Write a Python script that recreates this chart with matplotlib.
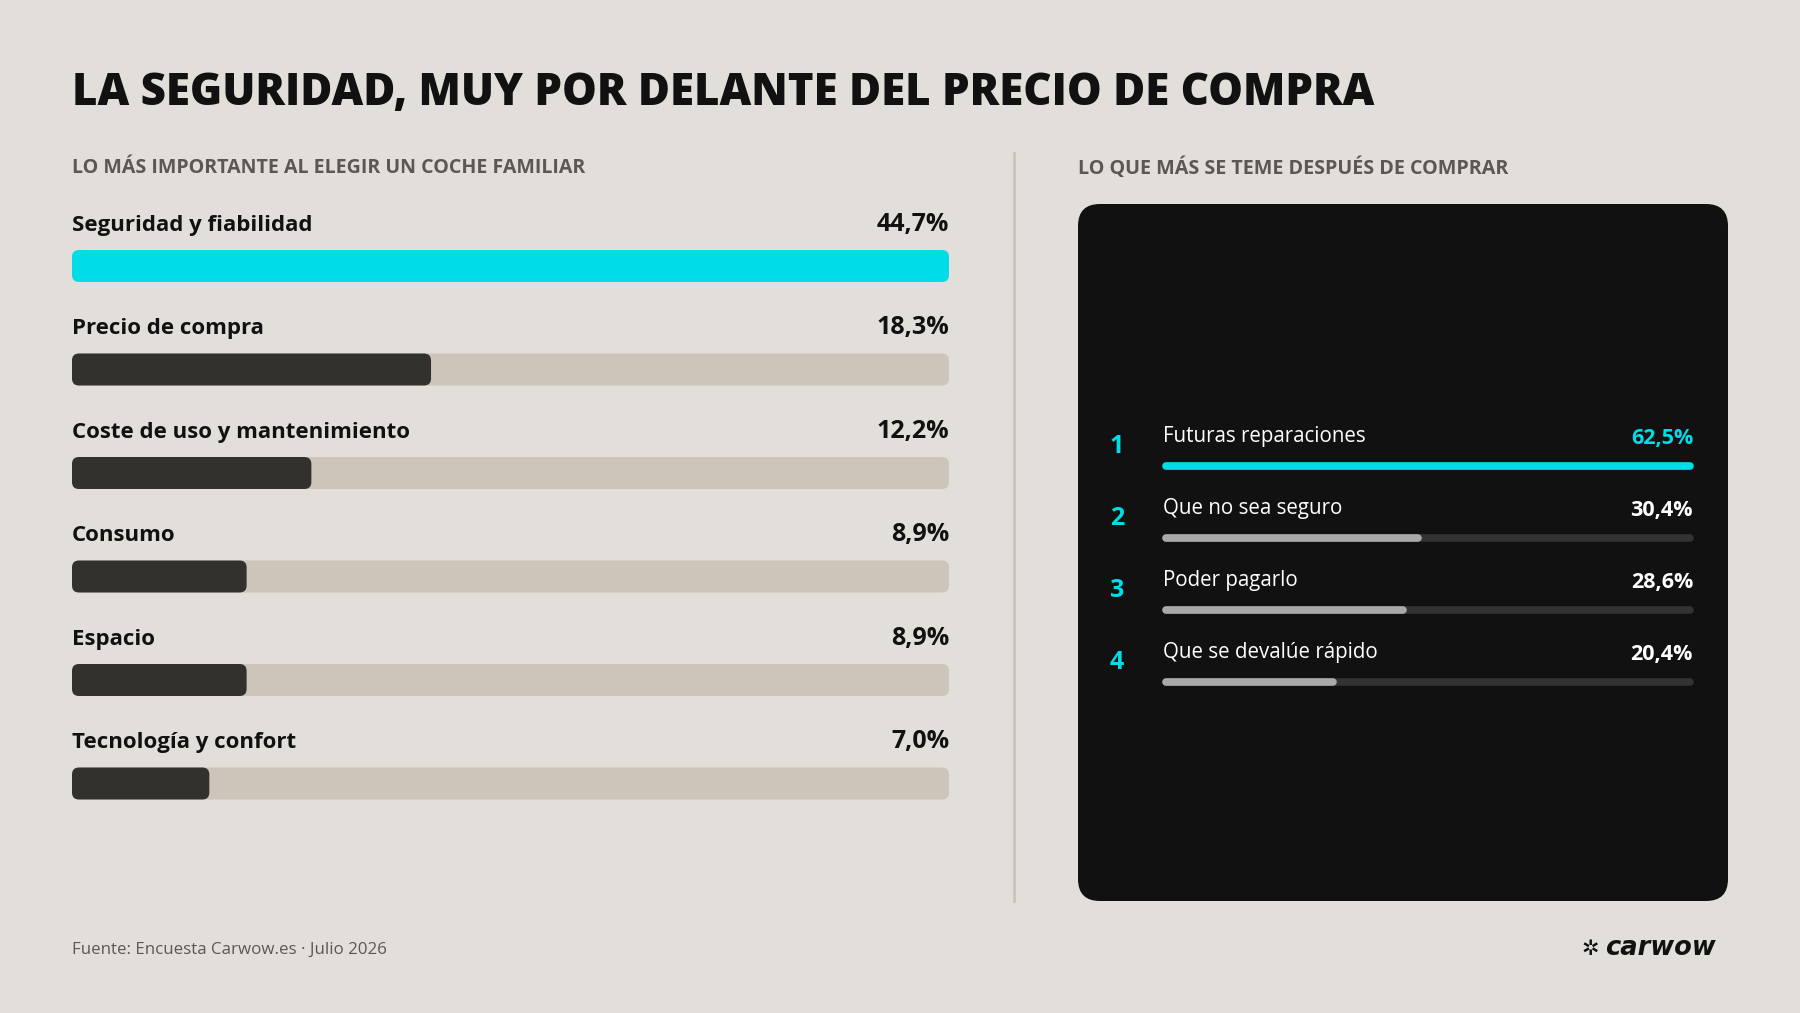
import matplotlib
matplotlib.use("Agg")
import matplotlib.pyplot as plt
from matplotlib.patches import FancyBboxPatch

# left panel: what matters most when choosing a family car
factors = ["Seguridad y fiabilidad", "Precio de compra", "Coste de uso y mantenimiento",
           "Consumo", "Espacio", "Tecnología y confort"]
factor_pct = [44.7, 18.3, 12.2, 8.9, 8.9, 7.0]

# right panel: biggest fears after buying
fears = ["Futuras reparaciones", "Que no sea seguro", "Poder pagarlo", "Que se devalúe rápido"]
fear_pct = [62.5, 30.4, 28.6, 20.4]

title = "LA SEGURIDAD, MUY POR DELANTE DEL PRECIO DE COMPRA"
left_sub = "LO MÁS IMPORTANTE AL ELEGIR UN COCHE FAMILIAR"
right_sub = "LO QUE MÁS SE TEME DESPUÉS DE COMPRAR"
source = "Fuente: Encuesta Carwow.es · Julio 2026"

BG = "#e2dfdb"
CYAN = "#00dce8"
DARK = "#33312e"
TRACK = "#cdc5ba"
INK = "#111111"
GREY = "#5a5754"

plt.rcParams["font.family"] = ["Open Sans", "DejaVu Sans"]

W, H = 1800, 1013
fig = plt.figure(figsize=(W / 100, H / 100), dpi=100, facecolor=BG)
ax = fig.add_axes([0, 0, 1, 1])
ax.set_xlim(0, W)
ax.set_ylim(H, 0)
ax.axis("off")

def fmt(v):
    return f"{v:.1f}".replace(".", ",") + "%"

def rbar(x, y, w, h, r, color, z=2):
    ax.add_patch(FancyBboxPatch((x, y), w, h, boxstyle=f"round,pad=0,rounding_size={r}",
                                fc=color, ec="none", zorder=z))

ax.text(72, 93, title, fontsize=31.5, fontweight="heavy", color=INK, va="center", ha="left")

# ---- left panel
L0, L1 = 72, 949
ax.text(L0, 168, left_sub, fontsize=14.1, fontweight="bold", color=GREY, va="center")
vmax = max(factor_pct)
for i, (name, v) in enumerate(zip(factors, factor_pct)):
    ty = 225 + i * 103.5
    by = 250 + i * 103.5
    ax.text(L0, ty, name, fontsize=16, fontweight="bold", color=INK, va="center")
    ax.text(L1, ty - 1, fmt(v), fontsize=18, fontweight="bold", color=INK, va="center", ha="right")
    full = L1 - L0
    if i == 0:
        rbar(L0, by, full, 32, 7, CYAN)
    else:
        rbar(L0, by, full, 32, 7, TRACK)
        rbar(L0, by, full * v / vmax, 32, 7, DARK, z=3)

# divider
ax.plot([1014, 1014], [153, 901], color="#cbc3b8", lw=2)

# ---- right panel
R0 = 1078
ax.text(R0, 168, right_sub, fontsize=14.2, fontweight="bold", color=GREY, va="center")
ax.add_patch(FancyBboxPatch((R0, 204), 1728 - R0, 901 - 204,
                            boxstyle="round,pad=0,rounding_size=22", fc=INK, ec="none"))
B0, B1 = 1163, 1693
fmax = max(fear_pct)
for i, (name, v) in enumerate(zip(fears, fear_pct)):
    ty = 436 + i * 72
    by = 466 + i * 72
    ax.text(1117, ty + 10, str(i + 1), fontsize=18, fontweight="bold", color=CYAN,
            va="center", ha="center")
    ax.text(B0, ty, name, fontsize=14.8, color="white", va="center")
    ax.text(B1, ty + 2, fmt(v), fontsize=15.5, fontweight="bold",
            color=CYAN if i == 0 else "white", va="center", ha="right")
    ax.plot([B0 + 3, B1 - 3], [by, by], color="#333333", lw=5.5, solid_capstyle="round", zorder=3)
    ax.plot([B0 + 3, B0 + (B1 - B0) * v / fmax - 3], [by, by],
            color=CYAN if i == 0 else "#a9a8ab", lw=5.5, solid_capstyle="round", zorder=4)

# footer
ax.text(72, 950, source, fontsize=12.2, color=GREY, va="center")
ax.text(1716, 948, "carwow", fontsize=18.5, fontweight="heavy", fontstyle="italic",
        color=INK, va="center", ha="right", family=["DejaVu Sans"])
ax.text(1590, 949, "✲", fontsize=15, fontweight="bold", color=INK, va="center", ha="center",
        family=["DejaVu Sans"])

fig.savefig("out.png", dpi=100, facecolor=BG)
